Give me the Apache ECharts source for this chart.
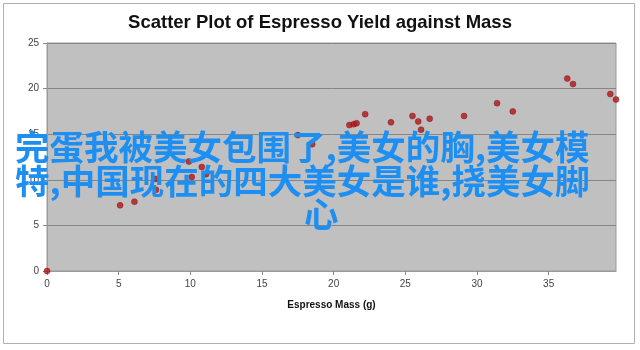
<!DOCTYPE html>
<html>
<head>
<meta charset="utf-8">
<script src="https://cdn.jsdelivr.net/npm/echarts@6/dist/echarts.min.js"></script>
<style>
html,body{margin:0;padding:0;background:#fff;}
#chart{width:640px;height:350px;}
</style>
</head>
<body>
<div id="chart"></div>
<script>
const chartTitle = 'Scatter Plot of Espresso Yield against Mass';
const xAxisTitle = 'Espresso Mass (g)';
const massValues = [0, 5.1, 6.1, 7.6, 7.6, 9.9, 10.1, 10.8, 11.1, 17.5, 18.5, 21.1, 21.4, 21.6, 22.2, 24.0, 25.5, 25.9, 26.1, 26.7, 29.1, 31.4, 32.5, 36.3, 36.7, 39.3, 39.7];
const yieldValues = [0, 7.2, 7.6, 10.1, 8.9, 12.0, 10.3, 11.4, 10.6, 14.9, 13.9, 16.0, 16.1, 16.2, 17.2, 16.3, 17.0, 16.4, 15.5, 16.7, 17.0, 18.4, 17.5, 21.1, 20.5, 19.4, 18.8];
const overlayLines = ['完蛋我被美女包围了,美女的胸,美女模', '特,中国现在的四大美女是谁,挠美女脚', '心'];

const points = massValues.map((m, i) => [m, yieldValues[i]]);

const chart = echarts.init(document.getElementById('chart'), null, {renderer: 'canvas'});
const labelFont = {color: '#444', fontSize: 10, fontFamily: 'Liberation Sans, Arial, sans-serif'};
const overlayFont = 'bold 34.5px "Noto Sans CJK SC", sans-serif';
chart.setOption({
  animation: false,
  backgroundColor: '#ffffff',
  title: {
    text: chartTitle,
    left: 'center',
    top: 8,
    textStyle: {fontSize: 18.5, fontWeight: 'bold', color: '#111', fontFamily: 'Liberation Sans, Arial, sans-serif'}
  },
  grid: {
    left: 47, right: 24, top: 43, bottom: 79,
    show: true, backgroundColor: '#c0c0c0', borderColor: '#9a9a9a', borderWidth: 1
  },
  xAxis: {
    type: 'value', min: 0, max: 39.7, interval: 5,
    name: xAxisTitle, nameLocation: 'middle', nameGap: 29,
    nameTextStyle: {fontSize: 10, fontWeight: 'bold', color: '#111', fontFamily: 'Liberation Sans, Arial, sans-serif'},
    axisLine: {show: true, lineStyle: {color: '#9a9a9a'}},
    axisTick: {show: true, length: 4, lineStyle: {color: '#888'}},
    axisLabel: Object.assign({margin: 8, showMaxLabel: false}, labelFont),
    splitLine: {show: false}
  },
  yAxis: {
    type: 'value', min: 0, max: 25, interval: 5,
    axisLine: {show: true, lineStyle: {color: '#9a9a9a'}},
    axisTick: {show: true, length: 4, lineStyle: {color: '#888'}},
    axisLabel: Object.assign({margin: 8}, labelFont),
    splitLine: {show: true, lineStyle: {color: '#858585', width: 1}}
  },
  series: [{
    type: 'scatter',
    data: points,
    symbol: 'circle',
    symbolSize: 6,
    itemStyle: {color: '#b01418', borderColor: '#8a0c10', borderWidth: 0.5}
  }],
  graphic: [
    {type: 'rect', shape: {x: 3.5, y: 3.5, width: 631, height: 340}, style: {fill: 'none', stroke: '#b0b0b0', lineWidth: 1}, z: -1, silent: true},
    {type: 'text', left: 15, top: 130, style: {text: overlayLines[0], fill: '#1e8ff2', font: overlayFont}, z: 100},
    {type: 'text', left: 15, top: 164, style: {text: overlayLines[1], fill: '#1e8ff2', font: overlayFont}, z: 100},
    {type: 'text', left: 304, top: 197, style: {text: overlayLines[2], fill: '#1e8ff2', font: overlayFont}, z: 100}
  ]
});
</script>
</body>
</html>
